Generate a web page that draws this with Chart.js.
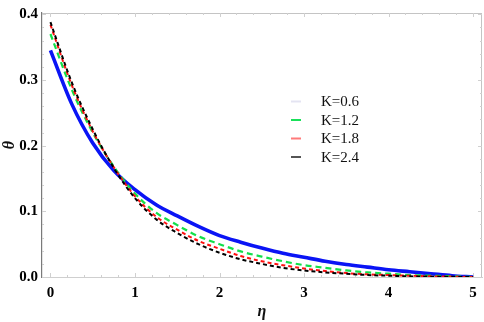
<!DOCTYPE html>
<html>
<head>
<meta charset="utf-8">
<script src="https://cdn.jsdelivr.net/npm/chart.js@4/dist/chart.umd.min.js"></script>
<style>
  html, body { margin: 0; padding: 0; background: #ffffff; }
  #wrap { width: 484px; height: 322px; position: relative; }
</style>
</head>
<body>
<div id="wrap"><canvas id="c"></canvas></div>
<script>
// ---- data ----
const etaValues = [0, 0.25, 0.5, 0.75, 1.0, 1.25, 1.5, 1.75, 2.0, 2.25, 2.5, 2.75, 3.0, 3.25, 3.5, 3.75, 4.0, 4.25, 4.5, 4.75, 5.0];
const thetaK06 = [0.345, 0.264, 0.204, 0.162, 0.133, 0.110, 0.093, 0.077, 0.063, 0.053, 0.044, 0.036, 0.030, 0.024, 0.019, 0.015, 0.011, 0.008, 0.005, 0.002, 0.0];
const thetaK12 = [0.370, 0.286, 0.220, 0.168, 0.127, 0.098, 0.079, 0.062, 0.050, 0.039, 0.031, 0.024, 0.018, 0.014, 0.010, 0.007, 0.005, 0.003, 0.002, 0.001, 0.0];
const thetaK18 = [0.384, 0.293, 0.222, 0.167, 0.123, 0.092, 0.072, 0.055, 0.043, 0.032, 0.024, 0.018, 0.013, 0.009, 0.006, 0.004, 0.003, 0.002, 0.001, 0.0005, 0.0];
const thetaK24 = [0.388, 0.297, 0.225, 0.166, 0.120, 0.088, 0.067, 0.050, 0.037, 0.027, 0.020, 0.014, 0.010, 0.007, 0.005, 0.003, 0.002, 0.001, 0.0005, 0.0002, 0.0];
const seriesLabels = ["K=0.6", "K=1.2", "K=1.8", "K=2.4"];
const xTickValues = [0, 1, 2, 3, 4, 5];
const yTickValues = [0.0, 0.1, 0.2, 0.3, 0.4];
const xAxisTitle = "η";
const yAxisTitle = "θ";

const toPoints = (ys) => etaValues.map((x, i) => ({ x: x, y: ys[i] }));

const serif = "'Liberation Serif', 'Times New Roman', serif";

// legend drawn inside the plot area, like the reference
const insideLegend = {
  id: 'insideLegend',
  afterDatasetsDraw(chart) {
    const ctx = chart.ctx;
    const sampleColors = ['#e4e4f2', '#19e05a', '#ff7a7a', '#555555'];
    const x0 = 291, x1 = 301, tx = 321;
    const rows = [101.5, 120, 138.5, 157];
    ctx.save();
    ctx.font = "15px " + serif;
    ctx.textBaseline = 'middle';
    ctx.fillStyle = '#111';
    chart.data.datasets.forEach((ds, i) => {
      ctx.strokeStyle = sampleColors[i];
      ctx.lineWidth = 2;
      ctx.beginPath();
      ctx.moveTo(x0, rows[i]);
      ctx.lineTo(x1, rows[i]);
      ctx.stroke();
      ctx.fillText(ds.label, tx, rows[i] + 1);
    });
    ctx.restore();
  }
};

// light frame on top/right plus small inward ticks
const frameTicks = {
  id: 'frameTicks',
  beforeDatasetsDraw(chart) {
    const { ctx, chartArea: a, scales } = chart;
    ctx.save();
    ctx.strokeStyle = '#c4c4c4';
    ctx.lineWidth = 1;
    ctx.beginPath();
    ctx.moveTo(a.left, a.top + 0.5); ctx.lineTo(a.right, a.top + 0.5);
    ctx.moveTo(a.right - 0.5, a.top); ctx.lineTo(a.right - 0.5, a.bottom);
    ctx.stroke();
    ctx.strokeStyle = '#d0d0d0';
    ctx.beginPath();
    for (let v = 0; v <= 5.0001; v += 0.2) {
      const px = Math.round(scales.x.getPixelForValue(v)) + 0.5;
      const major = Math.abs(v - Math.round(v)) < 1e-6;
      const len = major ? 4 : 2;
      ctx.moveTo(px, a.bottom); ctx.lineTo(px, a.bottom - len);
      ctx.moveTo(px, a.top); ctx.lineTo(px, a.top + len);
    }
    for (let v = 0; v <= 0.4001; v += 0.02) {
      const py = Math.round(scales.y.getPixelForValue(v)) + 0.5;
      const major = Math.abs(v * 10 - Math.round(v * 10)) < 1e-6;
      const len = major ? 4 : 2;
      ctx.moveTo(a.left, py); ctx.lineTo(a.left + len, py);
      ctx.moveTo(a.right, py); ctx.lineTo(a.right - len, py);
    }
    ctx.stroke();
    ctx.restore();
  }
};

new Chart(document.getElementById('c'), {
  type: 'line',
  data: {
    datasets: [
      { label: seriesLabels[0], data: toPoints(thetaK06), borderColor: '#0a14f5', borderWidth: 3.6, order: 4 },
      { label: seriesLabels[1], data: toPoints(thetaK12), borderColor: '#12e04a', borderWidth: 2.2, borderDash: [6, 4], order: 3 },
      { label: seriesLabels[2], data: toPoints(thetaK18), borderColor: '#ff1010', borderWidth: 2.0, borderDash: [4, 3], order: 2 },
      { label: seriesLabels[3], data: toPoints(thetaK24), borderColor: '#000000', borderWidth: 2.0, borderDash: [4, 3], order: 1 }
    ]
  },
  options: {
    responsive: true,
    maintainAspectRatio: false,
    animation: false,
    layout: { padding: { top: 7, right: 2, left: 0, bottom: 0 } },
    elements: {
      point: { radius: 0 },
      line: { cubicInterpolationMode: 'monotone', fill: false }
    },
    plugins: {
      legend: { display: false },
      tooltip: { enabled: false }
    },
    scales: {
      x: {
        type: 'linear',
        min: -0.1,
        max: 5.105,
        afterBuildTicks: (s) => { s.ticks = xTickValues.map(v => ({ value: v })); },
        afterFit: (s) => { s.height = 45; },
        grid: { display: false, drawTicks: false },
        border: { display: true, color: '#cfcfcf', width: 1 },
        ticks: {
          padding: 7,
          color: '#000',
          font: { family: serif, size: 15, weight: 'bold' },
          callback: (v) => String(v),
          maxRotation: 0
        },
        title: {
          display: true,
          text: xAxisTitle,
          color: '#111',
          font: { family: serif, size: 16, style: 'italic', weight: 'bold' },
          padding: { top: 0, bottom: 1 }
        }
      },
      y: {
        type: 'linear',
        min: 0,
        max: 0.402,
        afterBuildTicks: (s) => { s.ticks = yTickValues.map(v => ({ value: v })); },
        afterFit: (s) => { s.width = 42; },
        grid: { display: false, drawTicks: false },
        border: { display: true, color: '#7a7a7a', width: 1.2 },
        ticks: {
          padding: 4,
          color: '#000',
          font: { family: serif, size: 15, weight: 'bold' },
          callback: (v) => Number(v).toFixed(1)
        },
        title: {
          display: true,
          text: yAxisTitle,
          color: '#111',
          font: { family: serif, size: 16, style: 'italic', weight: 'bold' },
          padding: { top: 0, bottom: 0 }
        }
      }
    }
  },
  plugins: [frameTicks, insideLegend]
});
</script>
</body>
</html>
